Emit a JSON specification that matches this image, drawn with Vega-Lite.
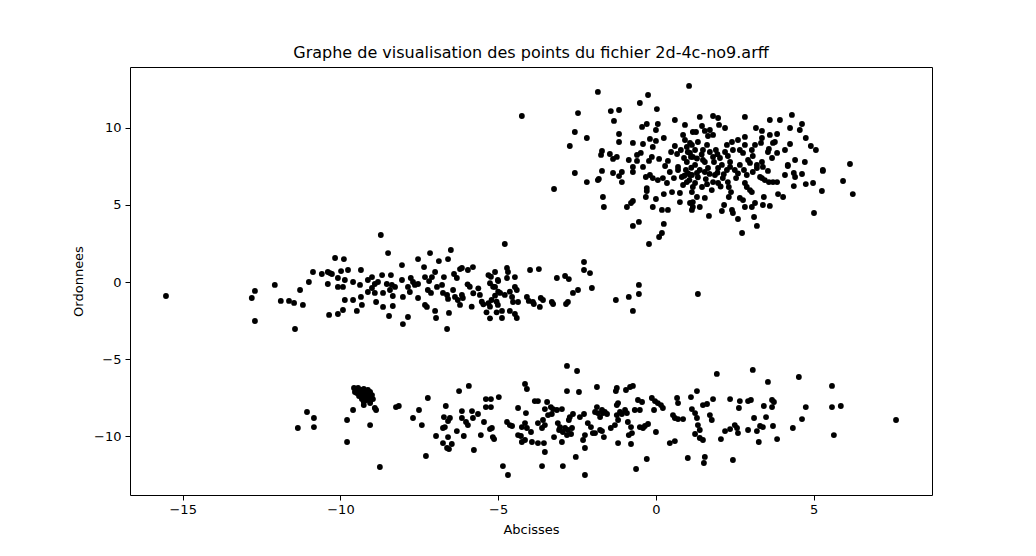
{
"$schema": "https://vega.github.io/schema/vega-lite/v6.json",
"width": 802, "height": 428,
"autosize": {"type": "none"},
"padding": {"left": 130, "top": 67, "right": 104, "bottom": 61},
"background": "white",
"config": {"view": {"stroke": "black", "strokeWidth": 1}, "font": "DejaVu Sans"},
"title": {"text": "Graphe de visualisation des points du fichier 2d-4c-no9.arff", "fontSize": 16, "fontWeight": "normal", "font": "DejaVu Sans", "color": "black", "offset": 6, "anchor": "middle"},
"data": {"values": [
{"x":-1.84,"y":12.34},{"x":-0.25,"y":12.14},{"x":1.05,"y":12.73},{"x":-0.51,"y":11.62},{"x":-2.47,"y":10.97},{"x":-1.43,"y":11.10},{"x":-1.17,"y":11.17},{"x":0.03,"y":11.23},{"x":-1.33,"y":10.46},{"x":-0.29,"y":10.26},{"x":-0.44,"y":10.07},{"x":0.06,"y":10.26},{"x":0.60,"y":10.52},{"x":0.00,"y":9.87},{"x":-2.57,"y":9.74},{"x":-2.19,"y":9.35},{"x":-1.17,"y":9.61},{"x":-2.73,"y":8.83},{"x":-1.17,"y":9.09},{"x":-0.73,"y":9.03},{"x":-0.41,"y":8.96},{"x":-0.19,"y":9.29},{"x":0.00,"y":9.16},{"x":0.25,"y":9.35},{"x":-0.10,"y":8.77},{"x":-1.71,"y":8.51},{"x":-1.74,"y":8.25},{"x":-1.46,"y":8.31},{"x":-1.36,"y":7.99},{"x":-1.24,"y":8.12},{"x":-0.86,"y":7.92},{"x":-0.60,"y":8.25},{"x":-0.48,"y":8.38},{"x":-0.60,"y":7.86},{"x":-0.22,"y":7.86},{"x":-0.13,"y":8.12},{"x":0.10,"y":7.99},{"x":0.38,"y":7.86},{"x":0.48,"y":8.44},{"x":0.60,"y":8.83},{"x":0.67,"y":8.31},{"x":0.86,"y":9.55},{"x":0.92,"y":9.22},{"x":0.98,"y":8.77},{"x":1.08,"y":9.03},{"x":1.01,"y":8.44},{"x":1.11,"y":8.12},{"x":0.98,"y":7.79},{"x":0.70,"y":7.47},{"x":-0.73,"y":7.47},{"x":-0.41,"y":7.47},{"x":0.29,"y":7.53},{"x":1.17,"y":9.74},{"x":1.81,"y":10.78},{"x":1.97,"y":10.65},{"x":2.00,"y":10.20},{"x":2.82,"y":10.72},{"x":4.31,"y":10.85},{"x":4.63,"y":10.26},{"x":4.56,"y":9.87},{"x":4.75,"y":9.35},{"x":4.91,"y":8.83},{"x":5.07,"y":8.57},{"x":4.25,"y":8.96},{"x":4.18,"y":7.60},{"x":4.72,"y":7.79},{"x":6.15,"y":7.66},{"x":5.29,"y":7.27},{"x":1.46,"y":10.13},{"x":1.27,"y":9.74},{"x":1.55,"y":9.81},{"x":1.71,"y":9.87},{"x":1.81,"y":9.55},{"x":1.65,"y":9.48},{"x":3.17,"y":10.00},{"x":3.36,"y":9.81},{"x":3.36,"y":9.35},{"x":3.33,"y":9.03},{"x":3.61,"y":9.55},{"x":3.84,"y":9.61},{"x":3.77,"y":9.09},{"x":3.71,"y":9.03},{"x":3.58,"y":8.64},{"x":3.55,"y":8.44},{"x":3.68,"y":8.05},{"x":3.84,"y":8.38},{"x":2.82,"y":9.42},{"x":2.60,"y":9.22},{"x":2.41,"y":9.09},{"x":2.25,"y":8.90},{"x":2.19,"y":8.44},{"x":2.28,"y":8.18},{"x":2.35,"y":7.79},{"x":2.82,"y":8.90},{"x":2.66,"y":8.57},{"x":2.76,"y":8.38},{"x":3.04,"y":8.57},{"x":3.07,"y":8.18},{"x":2.92,"y":7.92},{"x":2.98,"y":7.73},{"x":3.20,"y":7.60},{"x":3.36,"y":7.79},{"x":3.39,"y":7.47},{"x":1.14,"y":8.90},{"x":1.24,"y":8.57},{"x":1.33,"y":9.09},{"x":1.49,"y":8.57},{"x":1.62,"y":8.90},{"x":1.71,"y":8.44},{"x":1.81,"y":8.12},{"x":1.84,"y":7.79},{"x":1.55,"y":7.79},{"x":1.17,"y":8.12},{"x":1.08,"y":8.38},
{"x":-2.57,"y":7.08},{"x":-1.71,"y":7.21},{"x":-1.36,"y":7.08},{"x":-1.08,"y":7.14},{"x":-1.17,"y":6.88},{"x":-2.19,"y":6.49},{"x":-1.84,"y":6.62},{"x":-1.81,"y":6.69},{"x":-1.08,"y":6.49},{"x":-3.23,"y":6.04},{"x":-1.68,"y":5.52},{"x":-1.65,"y":4.87},{"x":-0.73,"y":7.14},{"x":-0.32,"y":6.82},{"x":-0.19,"y":6.95},{"x":-0.10,"y":6.75},{"x":0.06,"y":6.62},{"x":0.22,"y":6.75},{"x":0.35,"y":6.43},{"x":0.44,"y":7.14},{"x":0.57,"y":6.75},{"x":0.70,"y":7.27},{"x":0.82,"y":6.82},{"x":0.86,"y":6.30},{"x":0.98,"y":6.49},{"x":1.08,"y":6.95},{"x":1.17,"y":6.17},{"x":-0.29,"y":6.10},{"x":-0.29,"y":5.91},{"x":-0.32,"y":5.52},{"x":0.00,"y":5.39},{"x":0.25,"y":5.71},{"x":0.51,"y":5.84},{"x":0.76,"y":5.78},{"x":0.76,"y":5.19},{"x":1.17,"y":5.19},{"x":1.14,"y":4.68},{"x":-0.73,"y":5.26},{"x":-0.79,"y":5.13},{"x":-0.92,"y":4.87},{"x":-0.10,"y":4.87},{"x":0.19,"y":4.68},{"x":0.38,"y":4.68},{"x":-0.54,"y":3.90},{"x":-0.73,"y":3.64},{"x":0.25,"y":3.77},{"x":0.19,"y":3.18},{"x":0.10,"y":2.92},{"x":-0.22,"y":2.47},
{"x":4.18,"y":7.53},{"x":4.37,"y":7.08},{"x":4.41,"y":6.82},{"x":4.63,"y":7.01},{"x":5.29,"y":7.21},{"x":4.37,"y":6.23},{"x":4.75,"y":6.36},{"x":4.98,"y":6.43},{"x":5.93,"y":6.56},{"x":5.26,"y":5.91},{"x":6.24,"y":5.71},{"x":3.87,"y":5.71},{"x":4.03,"y":5.52},{"x":5.01,"y":4.48},{"x":3.42,"y":5.52},{"x":3.39,"y":5.00},{"x":3.61,"y":4.94},{"x":3.11,"y":4.22},{"x":3.20,"y":3.64},{"x":2.73,"y":3.18},{"x":1.68,"y":4.29},{"x":2.09,"y":4.61},{"x":2.16,"y":5.00},{"x":2.41,"y":4.68},{"x":2.44,"y":4.48},{"x":2.60,"y":4.09},{"x":2.82,"y":4.87},{"x":3.04,"y":4.87},{"x":3.14,"y":5.13},{"x":2.66,"y":5.46},{"x":2.76,"y":5.32},{"x":2.31,"y":5.52},{"x":2.38,"y":5.84},{"x":2.31,"y":6.17},{"x":2.28,"y":6.49},{"x":2.82,"y":6.43},{"x":2.88,"y":6.17},{"x":2.98,"y":5.97},{"x":3.04,"y":5.84},{"x":3.36,"y":6.75},{"x":3.45,"y":6.62},{"x":3.58,"y":6.49},{"x":3.71,"y":6.49},{"x":3.84,"y":6.49},{"x":2.54,"y":6.75},{"x":2.88,"y":6.95},{"x":3.07,"y":7.14},{"x":3.20,"y":7.40},{"x":3.30,"y":6.82},{"x":3.55,"y":7.21},{"x":2.12,"y":6.75},{"x":1.87,"y":6.95},{"x":1.81,"y":6.49},{"x":1.77,"y":5.97},{"x":1.97,"y":6.43},{"x":1.55,"y":7.14},{"x":1.30,"y":7.08},{"x":1.14,"y":6.95},{"x":1.24,"y":6.43},{"x":1.46,"y":6.17},{"x":1.14,"y":5.84},{"x":1.30,"y":5.52},{"x":1.55,"y":5.46},{"x":1.08,"y":5.13},{"x":1.17,"y":4.87},{"x":1.39,"y":4.87},{"x":2.25,"y":7.27},{"x":2.35,"y":7.47},{"x":2.09,"y":7.60},
{"x":0.79,"y":8.57},{"x":0.89,"y":8.05},{"x":0.95,"y":7.27},{"x":1.24,"y":7.60},{"x":1.39,"y":7.27},{"x":1.49,"y":7.92},{"x":1.65,"y":7.40},{"x":1.90,"y":8.57},{"x":2.03,"y":8.05},{"x":1.97,"y":7.40},{"x":2.44,"y":8.57},{"x":2.50,"y":7.27},{"x":2.66,"y":7.60},{"x":2.79,"y":7.27},{"x":3.14,"y":8.90},{"x":4.09,"y":8.57},{"x":4.25,"y":10.00},{"x":3.93,"y":10.52},{"x":3.61,"y":10.52},{"x":2.19,"y":10.00},{"x":1.39,"y":10.72},{"x":0.92,"y":10.20},{"x":4.09,"y":6.95},{"x":4.41,"y":7.92},{"x":-4.25,"y":10.78},
{"x":1.02,"y":7.05},{"x":1.12,"y":7.42},{"x":1.33,"y":6.80},{"x":1.58,"y":6.68},{"x":1.70,"y":7.02},{"x":1.45,"y":8.28},{"x":1.30,"y":8.02},{"x":1.95,"y":7.10},{"x":2.15,"y":7.00},{"x":2.05,"y":6.20},{"x":1.62,"y":6.35},{"x":0.90,"y":6.90},{"x":1.95,"y":8.30},{"x":1.06,"y":6.62},{"x":2.60,"y":7.05},
{"x":-15.53,"y":-0.91},{"x":-12.81,"y":-1.04},{"x":-12.71,"y":-0.58},{"x":-12.71,"y":-2.53},{"x":-12.08,"y":-0.19},{"x":-11.89,"y":-1.23},{"x":-11.63,"y":-1.23},{"x":-11.47,"y":-1.36},{"x":-11.19,"y":-1.49},{"x":-11.28,"y":-0.52},{"x":-11.00,"y":0.00},{"x":-10.87,"y":0.65},{"x":-10.59,"y":0.52},{"x":-10.40,"y":0.65},{"x":-10.33,"y":0.58},{"x":-10.40,"y":-0.13},{"x":-10.36,"y":-2.14},{"x":-11.44,"y":-3.05},
{"x":-8.72,"y":3.05},{"x":-8.49,"y":1.88},{"x":-10.17,"y":1.56},{"x":-9.89,"y":1.49},{"x":-10.27,"y":0.52},{"x":-9.98,"y":0.71},{"x":-9.76,"y":0.78},{"x":-9.35,"y":0.78},{"x":-10.08,"y":0.26},{"x":-10.08,"y":-0.32},{"x":-9.92,"y":-0.32},{"x":-9.86,"y":0.13},{"x":-9.60,"y":0.00},{"x":-9.38,"y":-0.19},{"x":-9.35,"y":-0.97},{"x":-9.86,"y":-1.17},{"x":-9.60,"y":-1.17},{"x":-9.48,"y":-1.88},{"x":-9.32,"y":-1.49},{"x":-10.08,"y":-2.08},{"x":-9.92,"y":-1.82},{"x":-9.13,"y":0.13},{"x":-9.00,"y":0.32},{"x":-8.91,"y":-0.13},{"x":-8.81,"y":0.00},{"x":-8.68,"y":0.45},{"x":-9.13,"y":-0.65},{"x":-9.00,"y":-0.39},{"x":-8.91,"y":-0.71},{"x":-8.53,"y":-0.13},{"x":-8.37,"y":-0.19},{"x":-8.27,"y":-0.32},{"x":-8.40,"y":0.45},{"x":-8.43,"y":-0.52},{"x":-8.34,"y":-0.91},{"x":-8.65,"y":-0.71},{"x":-8.87,"y":-1.30},{"x":-8.65,"y":-1.62},{"x":-8.34,"y":-1.56},{"x":-8.46,"y":-2.21},{"x":-8.05,"y":1.10},{"x":-8.05,"y":0.13},{"x":-8.02,"y":-0.97},{"x":-8.02,"y":-2.73},{"x":-7.86,"y":-2.27},{"x":-7.77,"y":0.26},{"x":-7.70,"y":0.00},{"x":-7.64,"y":-0.19},{"x":-7.86,"y":-0.32},{"x":-7.54,"y":-0.13},{"x":-7.80,"y":-0.65},{"x":-7.54,"y":-1.04},{"x":-7.32,"y":-1.49},{"x":-7.26,"y":-1.62},{"x":-7.54,"y":1.49},{"x":-7.35,"y":0.97},{"x":-7.16,"y":1.88},{"x":-6.88,"y":1.36},{"x":-6.59,"y":1.49},{"x":-6.50,"y":2.08},{"x":-7.32,"y":0.32},{"x":-7.19,"y":0.06},{"x":-7.10,"y":0.32},{"x":-7.00,"y":0.65},{"x":-7.23,"y":-0.52},{"x":-7.13,"y":-0.71},{"x":-6.94,"y":-0.32},{"x":-6.78,"y":-0.19},{"x":-6.72,"y":0.32},{"x":-6.75,"y":-0.71},{"x":-6.62,"y":-0.84},{"x":-6.59,"y":-1.10},{"x":-6.56,"y":-2.01},{"x":-7.00,"y":-1.88},{"x":-6.97,"y":-2.34},{"x":-6.62,"y":-3.05},{"x":-6.40,"y":0.52},{"x":-6.31,"y":0.26},{"x":-6.21,"y":0.84},{"x":-6.15,"y":0.91},{"x":-5.96,"y":0.78},{"x":-5.80,"y":0.97},{"x":-6.43,"y":-0.52},{"x":-6.37,"y":-0.97},{"x":-6.28,"y":-1.17},{"x":-6.21,"y":-1.49},{"x":-6.15,"y":-0.84},{"x":-6.12,"y":-1.04},{"x":-5.97,"y":-0.15},{"x":-5.90,"y":-0.31},{"x":-5.84,"y":-1.60},{"x":-5.79,"y":-0.73},{"x":-5.63,"y":-0.41},{"x":-5.58,"y":-0.84},{"x":-5.52,"y":-1.28},{"x":-5.47,"y":-1.45},{"x":-5.31,"y":0.45},{"x":-5.23,"y":0.34},{"x":-5.26,"y":-0.08},{"x":-5.16,"y":-0.31},{"x":-5.31,"y":-1.38},{"x":-5.26,"y":-1.60},{"x":-5.21,"y":-1.17},{"x":-5.10,"y":-0.89},{"x":-5.00,"y":-0.63},{"x":-5.05,"y":-1.28},{"x":-5.37,"y":-1.97},{"x":-5.26,"y":-2.36},{"x":-5.05,"y":-1.97},{"x":-5.00,"y":0.06},
{"x":-4.79,"y":2.47},{"x":-5.10,"y":0.65},{"x":-5.01,"y":0.13},{"x":-4.72,"y":0.91},{"x":-4.69,"y":0.65},{"x":-4.72,"y":0.26},{"x":-4.47,"y":0.32},{"x":-5.10,"y":-0.32},{"x":-4.94,"y":-0.71},{"x":-4.79,"y":-0.84},{"x":-4.63,"y":-0.63},{"x":-4.56,"y":-0.97},{"x":-4.47,"y":-0.32},{"x":-4.41,"y":-0.52},{"x":-4.53,"y":-1.30},{"x":-4.37,"y":-1.30},{"x":-5.01,"y":-1.49},{"x":-4.88,"y":-1.88},{"x":-4.63,"y":-1.88},{"x":-4.47,"y":-2.08},{"x":-4.41,"y":-2.34},{"x":-4.88,"y":-2.34},{"x":-3.99,"y":0.78},{"x":-3.71,"y":0.84},{"x":-4.09,"y":-0.97},{"x":-4.03,"y":-1.23},{"x":-3.90,"y":-1.30},{"x":-3.87,"y":-1.43},{"x":-3.65,"y":-1.04},{"x":-3.58,"y":-1.17},{"x":-3.68,"y":-1.62},{"x":-3.30,"y":-1.30},{"x":-3.26,"y":-1.43},{"x":-3.14,"y":0.26},{"x":-2.88,"y":0.39},{"x":-2.76,"y":0.19},{"x":-2.85,"y":-1.43},{"x":-2.79,"y":-1.30},{"x":-2.63,"y":-0.71},{"x":-2.47,"y":-0.52},{"x":-2.28,"y":1.30},{"x":-2.28,"y":0.78},{"x":-2.09,"y":0.58},{"x":-2.03,"y":-0.39},{"x":-1.27,"y":-1.17},{"x":-0.86,"y":-0.97},{"x":-0.54,"y":-0.19},{"x":-0.54,"y":-0.78},{"x":-0.73,"y":-1.88},{"x":1.33,"y":-0.78},
{"x":-11.06,"y":-8.44},{"x":-10.84,"y":-8.83},{"x":-10.84,"y":-9.42},{"x":-11.35,"y":-9.48},{"x":-9.79,"y":-8.96},{"x":-9.79,"y":-10.39},{"x":-9.60,"y":-8.31},{"x":-9.57,"y":-6.88},{"x":-9.51,"y":-7.01},{"x":-9.44,"y":-6.88},{"x":-9.38,"y":-7.14},{"x":-9.32,"y":-7.01},{"x":-9.26,"y":-6.95},{"x":-9.19,"y":-7.08},{"x":-9.13,"y":-7.01},{"x":-9.06,"y":-7.14},{"x":-9.48,"y":-7.21},{"x":-9.35,"y":-7.34},{"x":-9.22,"y":-7.27},{"x":-9.10,"y":-7.34},{"x":-9.29,"y":-7.47},{"x":-9.16,"y":-7.53},{"x":-9.03,"y":-7.47},{"x":-8.97,"y":-7.60},{"x":-9.19,"y":-7.66},{"x":-9.06,"y":-7.73},{"x":-9.41,"y":-7.40},{"x":-9.26,"y":-7.79},{"x":-9.00,"y":-7.34},{"x":-9.54,"y":-7.14},{"x":-9.32,"y":-7.60},{"x":-9.13,"y":-7.21},{"x":-9.26,"y":-7.99},{"x":-9.06,"y":-7.86},{"x":-8.91,"y":-8.18},{"x":-8.87,"y":-8.31},{"x":-9.06,"y":-9.29},{"x":-8.75,"y":-12.01},{"x":-8.24,"y":-8.12},{"x":-8.15,"y":-8.05},{"x":-7.51,"y":-8.31},{"x":-7.70,"y":-8.83},{"x":-7.42,"y":-9.29},{"x":-7.23,"y":-7.53},{"x":-7.29,"y":-11.30},{"x":-6.66,"y":-8.05},{"x":-6.72,"y":-8.77},{"x":-6.59,"y":-9.03},{"x":-6.75,"y":-9.48},{"x":-6.97,"y":-10.00},{"x":-6.59,"y":-10.07},{"x":-6.75,"y":-10.46},{"x":-6.62,"y":-10.78},
{"x":-6.53,"y":-8.83},{"x":-6.69,"y":-9.42},{"x":-6.47,"y":-10.52},{"x":-6.56,"y":-10.85},{"x":-6.24,"y":-7.08},{"x":-5.93,"y":-6.75},{"x":-6.15,"y":-8.38},{"x":-6.15,"y":-8.83},{"x":-6.02,"y":-9.09},{"x":-5.96,"y":-9.29},{"x":-5.83,"y":-8.38},{"x":-5.80,"y":-8.83},{"x":-5.64,"y":-8.57},{"x":-6.31,"y":-9.68},{"x":-6.09,"y":-10.00},{"x":-5.77,"y":-10.91},{"x":-5.39,"y":-7.60},{"x":-5.23,"y":-7.60},{"x":-5.39,"y":-8.12},{"x":-5.23,"y":-8.12},{"x":-4.98,"y":-7.47},{"x":-5.45,"y":-9.09},{"x":-5.26,"y":-9.55},{"x":-5.20,"y":-9.48},{"x":-5.55,"y":-9.94},{"x":-5.17,"y":-10.07},{"x":-5.13,"y":-10.20},{"x":-4.85,"y":-11.95},{"x":-4.69,"y":-12.53},{"x":-4.72,"y":-9.09},{"x":-4.63,"y":-9.29},{"x":-4.56,"y":-9.35},{"x":-4.15,"y":-6.62},{"x":-4.09,"y":-6.95},{"x":-4.37,"y":-8.18},{"x":-4.12,"y":-8.51},{"x":-4.15,"y":-9.16},{"x":-4.09,"y":-9.48},{"x":-4.25,"y":-9.42},{"x":-4.37,"y":-9.94},{"x":-4.28,"y":-10.00},{"x":-4.15,"y":-10.26},{"x":-4.25,"y":-10.39},{"x":-3.93,"y":-10.39},{"x":-3.74,"y":-10.46},{"x":-3.55,"y":-10.46},{"x":-3.52,"y":-11.04},{"x":-3.96,"y":-9.74},{"x":-3.84,"y":-7.73},{"x":-3.74,"y":-7.73},{"x":-3.74,"y":-9.16},{"x":-3.58,"y":-8.96},{"x":-3.52,"y":-9.29},{"x":-3.61,"y":-9.48},{"x":-3.45,"y":-7.79},{"x":-3.52,"y":-8.25},{"x":-3.33,"y":-8.12},{"x":-3.26,"y":-8.25},{"x":-3.42,"y":-8.64},{"x":-3.30,"y":-8.57},{"x":-3.14,"y":-8.31},{"x":-2.98,"y":-8.25},{"x":-3.61,"y":-11.95},{"x":-3.23,"y":-10.07},{"x":-3.11,"y":-9.16},{"x":-3.04,"y":-9.42},{"x":-3.07,"y":-9.61},{"x":-2.95,"y":-9.74},{"x":-2.98,"y":-10.39},{"x":-2.88,"y":-9.48},{"x":-2.79,"y":-9.61},{"x":-2.69,"y":-9.87},{"x":-2.82,"y":-9.94},{"x":-2.73,"y":-8.77},{"x":-2.63,"y":-8.57},{"x":-2.76,"y":-8.96},{"x":-2.66,"y":-9.48},{"x":-2.82,"y":-5.45},{"x":-2.50,"y":-5.78},{"x":-2.82,"y":-7.08},{"x":-2.44,"y":-7.14},{"x":-2.95,"y":-11.95},{"x":-2.54,"y":-11.36},{"x":-2.41,"y":-8.77},{"x":-2.28,"y":-8.57},{"x":-2.25,"y":-9.94},{"x":-2.31,"y":-10.26},{"x":-2.25,"y":-10.78},{"x":-2.16,"y":-9.16},{"x":-2.06,"y":-9.42},{"x":-2.00,"y":-9.81},{"x":-2.25,"y":-12.53},{"x":-1.87,"y":-6.82},{"x":-1.87,"y":-8.12},{"x":-1.93,"y":-8.44},{"x":-1.84,"y":-8.51},{"x":-1.77,"y":-9.61},
{"x":-1.71,"y":-8.31},{"x":-1.77,"y":-8.77},{"x":-1.68,"y":-8.51},{"x":-1.55,"y":-8.57},{"x":-1.62,"y":-8.44},{"x":-1.71,"y":-9.68},{"x":-1.65,"y":-10.07},{"x":-1.93,"y":-9.81},{"x":-1.27,"y":-7.08},{"x":-1.24,"y":-6.88},{"x":-0.95,"y":-7.01},{"x":-0.82,"y":-6.82},{"x":-0.73,"y":-6.75},{"x":-1.24,"y":-7.99},{"x":-1.20,"y":-7.86},{"x":-1.43,"y":-9.48},{"x":-1.30,"y":-9.29},{"x":-1.20,"y":-8.96},{"x":-1.08,"y":-8.57},{"x":-1.24,"y":-8.64},{"x":-1.14,"y":-8.44},{"x":-0.98,"y":-8.31},{"x":-0.92,"y":-8.51},{"x":-0.89,"y":-9.09},{"x":-0.79,"y":-9.42},{"x":-0.76,"y":-9.81},{"x":-0.86,"y":-9.94},{"x":-0.79,"y":-10.52},{"x":-1.20,"y":-10.46},{"x":-0.67,"y":-8.31},{"x":-0.57,"y":-7.66},{"x":-0.44,"y":-7.79},{"x":-0.51,"y":-8.31},{"x":-0.51,"y":-9.42},{"x":-0.41,"y":-9.48},{"x":-0.35,"y":-9.35},{"x":-0.25,"y":-9.22},{"x":-0.63,"y":-12.14},{"x":-0.29,"y":-11.49},{"x":-0.13,"y":-7.53},{"x":-0.03,"y":-7.73},{"x":-0.06,"y":-8.31},{"x":0.06,"y":-7.86},{"x":0.16,"y":-7.99},{"x":0.22,"y":-8.18},{"x":0.00,"y":-9.74},{"x":0.44,"y":-10.46},{"x":0.60,"y":-10.33},{"x":0.54,"y":-8.64},{"x":0.60,"y":-8.83},{"x":0.70,"y":-8.90},{"x":0.86,"y":-8.90},{"x":0.67,"y":-7.53},{"x":0.70,"y":-7.86},{"x":1.11,"y":-7.47},{"x":1.30,"y":-7.08},{"x":1.14,"y":-8.25},{"x":1.24,"y":-8.51},{"x":1.30,"y":-8.83},{"x":1.33,"y":-9.29},{"x":1.39,"y":-9.61},{"x":1.24,"y":-9.87},{"x":1.39,"y":-10.13},{"x":1.49,"y":-10.26},{"x":1.01,"y":-11.43},{"x":1.55,"y":-11.36},{"x":1.52,"y":-11.75},{"x":1.49,"y":-7.99},{"x":1.62,"y":-7.92},{"x":1.81,"y":-7.60},{"x":1.71,"y":-8.64},{"x":1.77,"y":-8.96},{"x":1.93,"y":-5.97},{"x":2.06,"y":-10.20},{"x":2.19,"y":-9.68},{"x":2.35,"y":-9.55},{"x":2.50,"y":-9.29},{"x":2.57,"y":-9.48},{"x":2.60,"y":-9.81},{"x":2.35,"y":-7.60},{"x":2.66,"y":-7.73},{"x":2.63,"y":-8.18},{"x":2.44,"y":-11.56},{"x":2.92,"y":-7.73},{"x":2.92,"y":-9.61},
{"x":3.07,"y":-5.71},{"x":3.55,"y":-6.49},{"x":4.53,"y":-6.17},{"x":5.58,"y":-6.75},{"x":3.01,"y":-7.66},{"x":3.68,"y":-7.66},{"x":3.74,"y":-7.79},{"x":3.42,"y":-8.05},{"x":3.68,"y":-8.12},{"x":4.75,"y":-8.12},{"x":5.58,"y":-8.12},{"x":5.86,"y":-8.05},{"x":3.11,"y":-8.83},{"x":3.49,"y":-8.77},{"x":4.63,"y":-8.90},{"x":3.20,"y":-9.68},{"x":3.30,"y":-9.35},{"x":3.39,"y":-9.42},{"x":3.71,"y":-9.35},{"x":4.34,"y":-9.48},{"x":7.61,"y":-8.96},{"x":3.26,"y":-10.39},{"x":3.84,"y":-10.20},{"x":5.64,"y":-9.94}
]},
"mark": {"type": "point", "filled": true, "color": "black", "opacity": 1, "size": 34, "shape": "circle", "clip": true},
"encoding": {
"x": {"field": "x", "type": "quantitative", "scale": {"domain": [-16.67, 8.75], "nice": false, "zero": false},
 "axis": {"title": "Abcisses", "values": [-15, -10, -5, 0, 5], "grid": false, "domain": false, "tickColor": "black", "tickSize": 5, "labelColor": "black", "labelFontSize": 13, "labelFont": "DejaVu Sans", "labelPadding": 3, "titleFont": "DejaVu Sans", "titleFontSize": 13, "titleFontWeight": "normal", "titleColor": "black", "titlePadding": 7}},
"y": {"field": "y", "type": "quantitative", "scale": {"domain": [-13.83, 13.96], "nice": false, "zero": false},
 "axis": {"title": "Ordonnees", "values": [-10, -5, 0, 5, 10], "grid": false, "domain": false, "tickColor": "black", "tickSize": 5, "labelColor": "black", "labelFontSize": 13, "labelFont": "DejaVu Sans", "labelPadding": 4, "titleFont": "DejaVu Sans", "titleFontSize": 13, "titleFontWeight": "normal", "titleColor": "black", "titlePadding": 8}}
}
}
